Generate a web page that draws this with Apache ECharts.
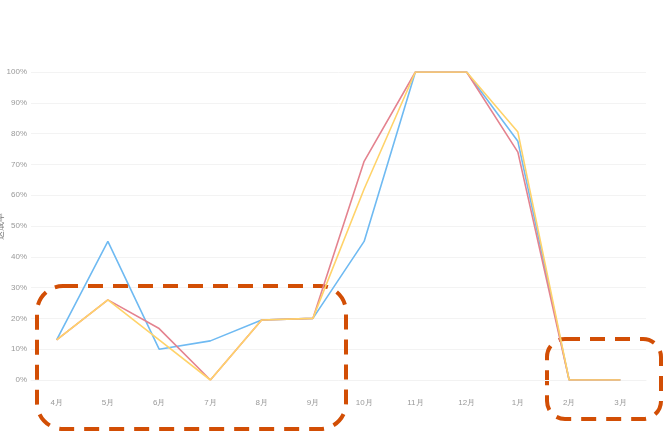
<!DOCTYPE html>
<html>
<head>
<meta charset="utf-8">
<script src="https://cdn.jsdelivr.net/npm/echarts@6/dist/echarts.min.js"></script>
<style>
    html, body { margin: 0; padding: 0; background: #fff; }
    #chart { width: 664px; height: 433px; }
</style>
</head>
<body>
<div id="chart"></div>
<script>
// 月份
var months = ['4月', '5月', '6月', '7月', '8月', '9月', '10月', '11月', '12月', '1月', '2月', '3月'];
// 三条线的数值(%)
var blueData = [13, 45, 10, 12.7, 19.5, 20, 45, 100, 100, 77.5, 0, 0];
var redData = [13, 26, 16.7, 0, 19.5, 20, 71, 100, 100, 74, 0, 0];
var yellowData = [13, 26, 13, 0, 19.5, 20, 62, 100, 100, 80.5, 0, 0];
var yTicks = [0, 10, 20, 30, 40, 50, 60, 70, 80, 90, 100];

var chart = echarts.init(document.getElementById('chart'));

function lineSeries(name, data, color) {
    return {
        name: name,
        type: 'line',
        data: data,
        symbol: 'none',
        lineStyle: { color: color, width: 1.6 },
        itemStyle: { color: color }
    };
}

chart.setOption({
    animation: false,
    grid: { left: 31, right: 18, top: 72, bottom: 53, containLabel: false, outerBoundsMode: 'none' },
    xAxis: {
        type: 'category',
        data: months,
        boundaryGap: true,
        axisLine: { show: true, lineStyle: { color: '#f2f2f2' } },
        axisTick: { show: false },
        axisLabel: { color: '#999', fontSize: 8, margin: 19 }
    },
    yAxis: {
        type: 'value',
        min: yTicks[0],
        max: yTicks[yTicks.length - 1],
        interval: 10,
        name: '达成率',
        nameLocation: 'middle',
        nameGap: 26,
        nameMoveOverlap: false,
        nameTextStyle: { color: '#777', fontSize: 9 },
        axisLine: { show: false },
        axisTick: { show: false },
        axisLabel: { color: '#999', fontSize: 8, margin: 4, formatter: '{value}%' },
        splitLine: { lineStyle: { color: '#f3f3f3' } }
    },
    series: [
        lineSeries('蓝', blueData, '#6fbaf2'),
        lineSeries('红', redData, '#e4838f'),
        lineSeries('黄', yellowData, '#ffd36a')
    ]
});

// 标注用的虚线框
var boxStyle = { fill: 'none', stroke: '#d24e05', lineWidth: 4, lineDash: [15, 10] };
chart.setOption({
    graphic: [
        { type: 'rect', shape: { x: 37, y: 286, width: 309, height: 143, r: 26 }, style: boxStyle, silent: true },
        { type: 'rect', shape: { x: 547, y: 339, width: 114, height: 80, r: 18 }, style: boxStyle, silent: true }
    ]
});
</script>
</body>
</html>
